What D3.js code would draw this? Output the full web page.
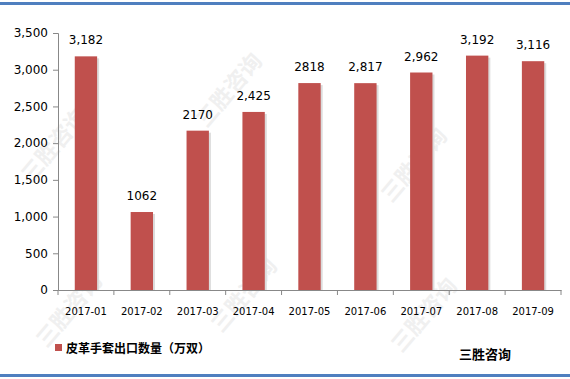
<!DOCTYPE html>
<html lang="zh">
<head>
<meta charset="UTF-8">
<title>皮革手套出口数量</title>
<script src="https://d3js.org/d3.v7.min.js"></script>
<style>
  body { margin: 0; background: #fff; }
  svg text { font-family: "DejaVu Sans", Verdana, sans-serif; }
</style>
</head>
<body>
<div id="chart"></div>
<script>
// data
const months = ["2017-01", "2017-02", "2017-03", "2017-04", "2017-05", "2017-06", "2017-07", "2017-08", "2017-09"];
const values = [3182, 1062, 2170, 2425, 2818, 2817, 2962, 3192, 3116];
const valueLabels = ["3,182", "1062", "2170", "2,425", "2818", "2,817", "2,962", "3,192", "3,116"];
const yTicks = [0, 500, 1000, 1500, 2000, 2500, 3000, 3500];
const legendName = "皮革手套出口数量（万双）";
const sourceName = "三胜咨询";

const W = 570, H = 379;
const margin = {top: 33, right: 9, bottom: 89, left: 58};
const width = W - margin.left - margin.right,
      height = H - margin.top - margin.bottom;

const svg = d3.select("#chart").append("svg")
  .attr("width", W).attr("height", H);

// frame lines top and bottom
svg.append("rect").attr("x", 0).attr("y", 2).attr("width", W).attr("height", 3).attr("fill", "#4f7fbf");
svg.append("rect").attr("x", 0).attr("y", 374).attr("width", W).attr("height", 3).attr("fill", "#4f7fbf");

// faint watermarks
const marks = [[60, 150], [235, 95], [420, 170], [75, 315], [250, 300], [430, 320]];
marks.forEach(m => {
  svg.append("text")
    .attr("transform", `translate(${m[0]},${m[1]}) rotate(-50)`)
    .attr("text-anchor", "middle")
    .style("font-family", "'Noto Sans CJK SC', sans-serif")
    .style("font-size", "22px")
    .style("font-weight", "bold")
    .attr("fill", "#f0f0f0")
    .text("三胜咨询");
});

const g = svg.append("g").attr("transform", `translate(${margin.left},${margin.top})`);

const x = d3.scaleBand().domain(months).range([0, width]).paddingInner(0.6).paddingOuter(0.3);
const xEdge = d3.scaleBand().domain(months).range([0, width]);
const y = d3.scaleLinear().domain([0, 3500]).range([height, 0]);

// y axis
const yAxis = g.append("g")
  .call(d3.axisLeft(y).tickValues(yTicks).tickSize(5).tickFormat(d3.format(",")));
yAxis.select(".domain").attr("stroke", "#888");
yAxis.selectAll(".tick line").attr("stroke", "#888");
yAxis.selectAll(".tick text").attr("x", -10).style("font-size", "12px").attr("fill", "#000");

// x axis
const xAxis = g.append("g").attr("transform", `translate(0,${height})`)
  .call(d3.axisBottom(xEdge).tickSize(0).tickSizeOuter(0));
xAxis.select(".domain").attr("stroke", "#888");
xAxis.selectAll(".tick text").attr("dy", "0").attr("y", 25).style("font-size", "10px").attr("fill", "#000");
xAxis.selectAll(".edge")
  .data(d3.range(months.length + 1))
  .join("line")
  .attr("class", "edge")
  .attr("x1", i => i * xEdge.step()).attr("x2", i => i * xEdge.step())
  .attr("y1", 0).attr("y2", 5)
  .attr("stroke", "#888");

// bar shadows
g.selectAll(".shadow")
  .data(values)
  .join("rect")
  .attr("class", "shadow")
  .attr("x", (d, i) => x(months[i]) + 2)
  .attr("y", d => y(d) + 2)
  .attr("width", x.bandwidth())
  .attr("height", d => height - y(d) - 2)
  .attr("fill", "#dcdcdc");

// bars
g.selectAll(".bar")
  .data(values)
  .join("rect")
  .attr("class", "bar")
  .attr("x", (d, i) => x(months[i]))
  .attr("y", d => y(d))
  .attr("width", x.bandwidth())
  .attr("height", d => height - y(d))
  .attr("fill", "#c0504d");

// value labels
g.selectAll(".vlabel")
  .data(values)
  .join("text")
  .attr("class", "vlabel")
  .attr("x", (d, i) => x(months[i]) + x.bandwidth() / 2)
  .attr("y", d => y(d) - 12)
  .attr("text-anchor", "middle")
  .style("font-size", "12px")
  .attr("fill", "#000")
  .text((d, i) => valueLabels[i]);

// legend
svg.append("rect").attr("x", 55).attr("y", 344).attr("width", 7).attr("height", 7).attr("fill", "#c0504d");
svg.append("text").attr("x", 66).attr("y", 353)
  .style("font-family", "'Noto Sans CJK SC', sans-serif")
  .style("font-size", "12px").style("font-weight", "bold")
  .attr("fill", "#000")
  .text(legendName);

// source
svg.append("text").attr("x", 459).attr("y", 359)
  .style("font-family", "'Noto Sans CJK SC', sans-serif")
  .style("font-size", "13px").style("font-weight", "bold")
  .attr("fill", "#000")
  .text(sourceName);
</script>
</body>
</html>
